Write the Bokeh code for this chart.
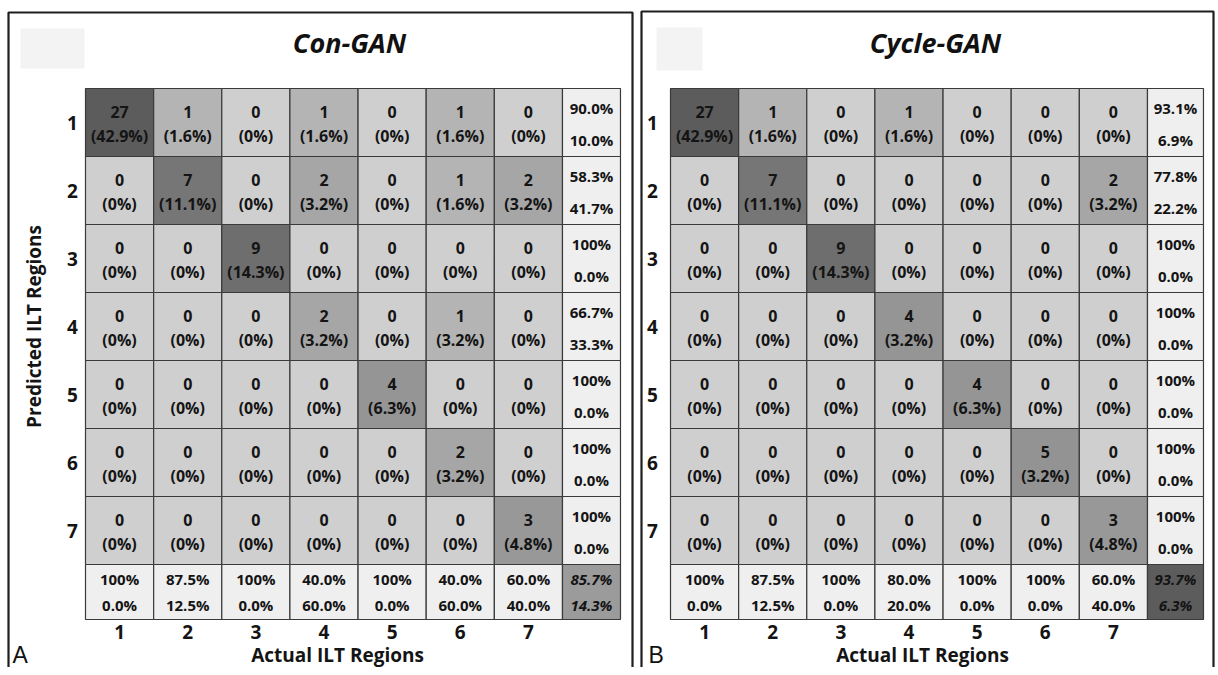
from bokeh.plotting import figure
from bokeh.layouts import row
from bokeh.models import Range1d, ColumnDataSource
from bokeh.core.properties import value
from bokeh.embed import file_html
from bokeh.resources import INLINE
import math

# ---------------- data ----------------
regions = ["1", "2", "3", "4", "5", "6", "7"]

con_counts = [
    [27, 1, 0, 1, 0, 1, 0],
    [0, 7, 0, 2, 0, 1, 2],
    [0, 0, 9, 0, 0, 0, 0],
    [0, 0, 0, 2, 0, 1, 0],
    [0, 0, 0, 0, 4, 0, 0],
    [0, 0, 0, 0, 0, 2, 0],
    [0, 0, 0, 0, 0, 0, 3],
]
con_pcts = [
    [42.9, 1.6, 0, 1.6, 0, 1.6, 0],
    [0, 11.1, 0, 3.2, 0, 1.6, 3.2],
    [0, 0, 14.3, 0, 0, 0, 0],
    [0, 0, 0, 3.2, 0, 3.2, 0],
    [0, 0, 0, 0, 6.3, 0, 0],
    [0, 0, 0, 0, 0, 3.2, 0],
    [0, 0, 0, 0, 0, 0, 4.8],
]
con_row_correct = [90.0, 58.3, 100, 66.7, 100, 100, 100]
con_row_wrong = [10.0, 41.7, 0.0, 33.3, 0.0, 0.0, 0.0]
con_col_correct = [100, 87.5, 100, 40.0, 100, 40.0, 60.0]
con_col_wrong = [0.0, 12.5, 0.0, 60.0, 0.0, 60.0, 40.0]
con_overall = [85.7, 14.3]

cyc_counts = [
    [27, 1, 0, 1, 0, 0, 0],
    [0, 7, 0, 0, 0, 0, 2],
    [0, 0, 9, 0, 0, 0, 0],
    [0, 0, 0, 4, 0, 0, 0],
    [0, 0, 0, 0, 4, 0, 0],
    [0, 0, 0, 0, 0, 5, 0],
    [0, 0, 0, 0, 0, 0, 3],
]
cyc_pcts = [
    [42.9, 1.6, 0, 1.6, 0, 0, 0],
    [0, 11.1, 0, 0, 0, 0, 3.2],
    [0, 0, 14.3, 0, 0, 0, 0],
    [0, 0, 0, 3.2, 0, 0, 0],
    [0, 0, 0, 0, 6.3, 0, 0],
    [0, 0, 0, 0, 0, 3.2, 0],
    [0, 0, 0, 0, 0, 0, 4.8],
]
cyc_row_correct = [93.1, 77.8, 100, 100, 100, 100, 100]
cyc_row_wrong = [6.9, 22.2, 0.0, 0.0, 0.0, 0.0, 0.0]
cyc_col_correct = [100, 87.5, 100, 80.0, 100, 100, 60.0]
cyc_col_wrong = [0.0, 12.5, 0.0, 20.0, 0.0, 0.0, 40.0]
cyc_overall = [93.7, 6.3]

# ---------------- styles / layout ----------------
FONT = value("Open Sans")
TXT = "#141414"
GRID_LINE = "#3a3a3a"
SUMMARY_FILL = "#efefef"
SHADE = {0: "#cfcfcf", 1: "#b4b4b4", 2: "#a6a6a6", 3: "#989898", 4: "#959595",
         5: "#939393", 7: "#767676", 9: "#6e6e6e", 27: "#5c5c5c"}

FIG_TOP, FIG_H = 0, 667
GRID_TOP, ROW_H, SUM_H = 88.0, 68.0, 55.0
COL_W = 68.14


def fmt_cell(v):
    return "(0%)" if v == 0 else "({:.1f}%)".format(v)


def fmt_pct(v):
    return "100%" if v == 100 else "{:.1f}%".format(v)


def make_panel(title, letter, counts, pcts, row_c, row_w, col_c, col_w, overall,
               corner_fill, lay, show_ylabel):
    gx = lay["grid_left"]

    def X(px):
        return 0.5 + (px - gx) / COL_W

    def Y(py):
        return 0.5 + (py - GRID_TOP) / ROW_H

    p = figure(width=lay["w"], height=FIG_H,
               x_range=Range1d(X(lay["x0"]), X(lay["x0"] + lay["w"])),
               y_range=Range1d(Y(FIG_TOP + FIG_H), Y(FIG_TOP)),
               x_axis_type=None, y_axis_type=None, toolbar_location=None,
               output_backend="svg", min_border=0, outline_line_color=None,
               background_fill_color="white", border_fill_color="white")

    n = len(regions)
    sw = lay["sum_w"] / COL_W
    sh = SUM_H / ROW_H

    # faint masked logo box
    lx0, lx1, ly0, ly1 = lay["logo"]
    p.quad(left=[X(lx0)], right=[X(lx1)], top=[Y(ly0)], bottom=[Y(ly1)],
           fill_color="#f3f3f3", line_color=None)

    # panel frame (bottom is cut off)
    bl, br, bt = lay["box"]
    yb = Y(FIG_TOP + FIG_H + 20)
    p.line(x=[X(bl), X(bl), X(br), X(br)], y=[yb, Y(bt), Y(bt), yb],
           line_color="#1e1e1e", line_width=2.2)

    # matrix cells
    cx, cy, ctop, cbot, fills = [], [], [], [], []
    for r in range(n):
        for c in range(n):
            cx.append(c + 1)
            cy.append(r + 1)
            ctop.append(counts[r][c])
            cbot.append(fmt_cell(pcts[r][c]))
            fills.append(SHADE[counts[r][c]])
    src = ColumnDataSource(dict(x=cx, y=cy, a=[str(v) for v in ctop], b=cbot, fill=fills,
                                ya=[v - 0.15 for v in cy], yb=[v + 0.2 for v in cy]))
    p.rect(x="x", y="y", width=1, height=1, source=src, fill_color="fill",
           line_color=GRID_LINE, line_width=1.2)
    p.text(x="x", y="ya", text="a", source=src, text_font=FONT, text_font_style="bold",
           text_font_size="16px", text_align="center", text_baseline="middle", text_color=TXT)
    p.text(x="x", y="yb", text="b", source=src, text_font=FONT, text_font_style="bold",
           text_font_size="16px", text_align="center", text_baseline="middle", text_color=TXT)

    # row summary (right column)
    rs = ColumnDataSource(dict(y=list(range(1, n + 1)),
                               a=[fmt_pct(v) for v in row_c], b=[fmt_pct(v) for v in row_w]))
    xr = 7.5 + sw / 2
    p.rect(x=xr, y="y", width=sw, height=1, source=rs, fill_color=SUMMARY_FILL,
           line_color=GRID_LINE, line_width=1.2)
    rs.data["ya"] = [v - 0.21 for v in rs.data["y"]]
    rs.data["yb"] = [v + 0.25 for v in rs.data["y"]]
    for col in ("a", "b"):
        p.text(x=xr, y="y" + col, text=col, source=rs, text_font=FONT,
               text_font_style="bold", text_font_size="15px", text_align="center",
               text_baseline="middle", text_color=TXT)

    # column summary (bottom row)
    yr = 7.5 + sh / 2
    cs = ColumnDataSource(dict(x=list(range(1, n + 1)),
                               a=[fmt_pct(v) for v in col_c], b=[fmt_pct(v) for v in col_w]))
    p.rect(x="x", y=yr, width=1, height=sh, source=cs, fill_color=SUMMARY_FILL,
           line_color=GRID_LINE, line_width=1.2)
    p.text(x="x", y=yr - 0.19, text="a", source=cs, text_font=FONT, text_font_style="bold",
           text_font_size="15px", text_align="center", text_baseline="middle", text_color=TXT)
    p.text(x="x", y=yr + 0.19, text="b", source=cs, text_font=FONT, text_font_style="bold",
           text_font_size="15px", text_align="center", text_baseline="middle", text_color=TXT)

    # overall corner
    p.rect(x=[xr], y=[yr], width=sw, height=sh, fill_color=corner_fill,
           line_color=GRID_LINE, line_width=1.2)
    p.text(x=[xr, xr], y=[yr - 0.19, yr + 0.19], text=[fmt_pct(v) for v in overall],
           text_font=FONT, text_font_style="bold italic", text_font_size="15px",
           text_align="center", text_baseline="middle", text_color=TXT)

    # tick labels
    p.text(x=list(range(1, n + 1)), y=[Y(631)] * n, text=regions, text_font=FONT,
           text_font_style="bold", text_font_size="19px", text_align="center",
           text_baseline="middle", text_color=TXT)
    p.text(x=[X(lay["tick_x"])] * n, y=list(range(1, n + 1)), text=regions, text_font=FONT,
           text_font_style="bold", text_font_size="19px", text_align="center",
           text_baseline="middle", text_color=TXT)

    # axis labels
    p.text(x=[4.2], y=[Y(654)], text=["Actual ILT Regions"], text_font=FONT,
           text_font_style="bold", text_font_size="19px", text_align="center",
           text_baseline="middle", text_color=TXT)
    if show_ylabel:
        p.text(x=[X(33)], y=[4.0], text=["Predicted ILT Regions"], text_font=FONT,
               text_font_style="bold", text_font_size="19px", text_align="center",
               text_baseline="middle", text_color=TXT, angle=math.pi / 2)

    # title and panel letter
    p.text(x=[X(lay["title_x"])], y=[Y(42)], text=[title], text_font=FONT,
           text_font_style="bold italic", text_font_size="27px", text_align="center",
           text_baseline="middle", text_color="#111111")
    p.text(x=[X(lay["letter_x"])], y=[Y(654)], text=[letter], text_font=value("Liberation Sans"),
           text_font_size="23px", text_align="left", text_baseline="middle", text_color="#111111")
    return p


left_layout = dict(x0=0, w=636, grid_left=85, sum_w=58, box=(8, 632, 12), title_x=349,
                   logo=(20, 84, 28, 68), tick_x=72, letter_x=12)
right_layout = dict(x0=636, w=580, grid_left=670, sum_w=56, box=(641, 1213, 11), title_x=935,
                    logo=(656, 702, 27, 70), tick_x=652, letter_x=648)

p1 = make_panel("Con-GAN", "A", con_counts, con_pcts, con_row_correct, con_row_wrong,
                con_col_correct, con_col_wrong, con_overall, "#9b9b9b", left_layout, True)
p2 = make_panel("Cycle-GAN", "B", cyc_counts, cyc_pcts, cyc_row_correct, cyc_row_wrong,
                cyc_col_correct, cyc_col_wrong, cyc_overall, "#5c5c5c", right_layout, False)

layout = row(p1, p2, spacing=0)
open("out.html", "w").write(file_html(layout, INLINE))
